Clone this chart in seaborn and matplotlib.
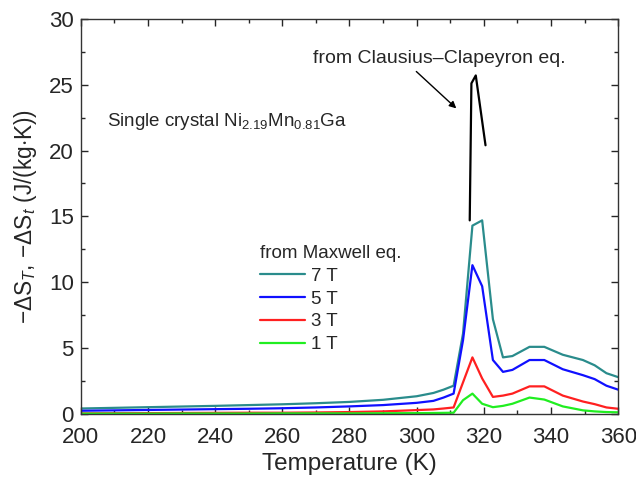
import numpy as np
import pandas as pd
import matplotlib
matplotlib.use("Agg")
import matplotlib.pyplot as plt
from matplotlib.ticker import MultipleLocator
import seaborn as sns

# temperatures (K)
temperatura = [200, 210, 220, 230, 240, 250, 260, 270, 280, 290, 300, 305, 308, 311,
               313.8, 316.6, 319.5, 322.7, 325.7, 328.5, 333.6, 338, 343.5, 349.5,
               353, 356.5, 360]

# -dS from Maxwell eq. (J/(kg K))
ds_7T = [0.42, 0.47, 0.52, 0.57, 0.62, 0.68, 0.74, 0.82, 0.92, 1.08, 1.35, 1.6, 1.85, 2.15,
         6.1, 14.3, 14.7, 7.2, 4.3, 4.4, 5.1, 5.1, 4.5, 4.1, 3.7, 3.1, 2.8]
ds_5T = [0.25, 0.28, 0.31, 0.34, 0.37, 0.40, 0.44, 0.50, 0.58, 0.68, 0.85, 1.0, 1.25, 1.55,
         5.6, 11.3, 9.7, 4.1, 3.2, 3.35, 4.1, 4.1, 3.4, 2.95, 2.65, 2.15, 1.85]
ds_3T = [0.05, 0.06, 0.07, 0.08, 0.09, 0.1, 0.1, 0.12, 0.15, 0.2, 0.3, 0.35, 0.42, 0.5,
         2.4, 4.3, 2.7, 1.3, 1.4, 1.55, 2.1, 2.1, 1.4, 0.95, 0.75, 0.5, 0.4]
ds_1T = [0.03, 0.03, 0.03, 0.04, 0.04, 0.04, 0.05, 0.05, 0.05, 0.06, 0.07, 0.08, 0.09, 0.1,
         1.05, 1.55, 0.78, 0.52, 0.62, 0.78, 1.25, 1.1, 0.58, 0.28, 0.2, 0.15, 0.13]

# from Clausius-Clapeyron eq.
t_cc = [315.8, 316.3, 317.6, 320.5]
ds_cc = [14.7, 25.1, 25.7, 20.4]

campos = ["7 T", "5 T", "3 T", "1 T"]
cores = ["#2a8c8c", "#1010ff", "#ff2020", "#20ee20"]

df = pd.DataFrame({"T": temperatura, "7 T": ds_7T, "5 T": ds_5T, "3 T": ds_3T, "1 T": ds_1T})
df = df.melt(id_vars="T", var_name="campo", value_name="dS")

sns.set_style("ticks")
plt.rcParams["font.family"] = ["Liberation Sans", "DejaVu Sans"]
plt.rcParams["mathtext.fontset"] = "custom"
plt.rcParams["mathtext.rm"] = "Liberation Sans"
plt.rcParams["mathtext.it"] = "Liberation Sans:italic"

fig = plt.figure(figsize=(6.36, 4.82), dpi=100)
ax = fig.add_axes([0.127, 0.141, 0.845, 0.820])

sns.lineplot(data=df, x="T", y="dS", hue="campo", hue_order=campos,
             palette=dict(zip(campos, cores)), linewidth=1.6, ax=ax)
sns.lineplot(x=t_cc, y=ds_cc, color="black", linewidth=1.6, sort=False, ax=ax)

ax.set_xlim(200, 360)
ax.set_ylim(0, 30)
ax.xaxis.set_major_locator(MultipleLocator(20))
ax.xaxis.set_minor_locator(MultipleLocator(10))
ax.yaxis.set_major_locator(MultipleLocator(5))
ax.yaxis.set_minor_locator(MultipleLocator(2.5))
ax.tick_params(which="both", direction="in", top=True, right=True, width=1.0)
ax.tick_params(which="major", length=5, labelsize=16)
ax.tick_params(which="minor", length=3)
ax.tick_params(axis="x", which="major", pad=9)
ax.tick_params(axis="y", which="major", pad=5)
for s in ax.spines.values():
    s.set_linewidth(1.0)
    s.set_color("#333333")

ax.set_xlabel("Temperature (K)", fontsize=17.5, labelpad=4)
ax.set_ylabel(r"$-\Delta\mathrm{S}_{\mathit{T}}$, $-\Delta\mathrm{S}_{\mathit{t}}$ (J/(kg$\cdot$K))",
              fontsize=16.3, labelpad=7)

ax.text(207.7, 22.2, r"Single crystal Ni$_{2.19}$Mn$_{0.81}$Ga", fontsize=13.5, va="center")
ax.text(306.6, 27.0, "from Clausius\u2013Clapeyron eq.", fontsize=14, ha="center", va="center")
ax.annotate("", xy=(311.8, 23.2), xytext=(299.9, 26.0),
            arrowprops=dict(arrowstyle="-|>", color="black", lw=1.0,
                            shrinkA=0, shrinkB=0, mutation_scale=10))

leg = ax.legend(title="from Maxwell eq.", frameon=False, fontsize=13.5, title_fontsize=13.5,
                loc="upper left", bbox_to_anchor=(0.302, 0.47), handlelength=2.4,
                handletextpad=0.3, labelspacing=0.3, alignment="left")

plt.savefig("out.png", dpi=100)
